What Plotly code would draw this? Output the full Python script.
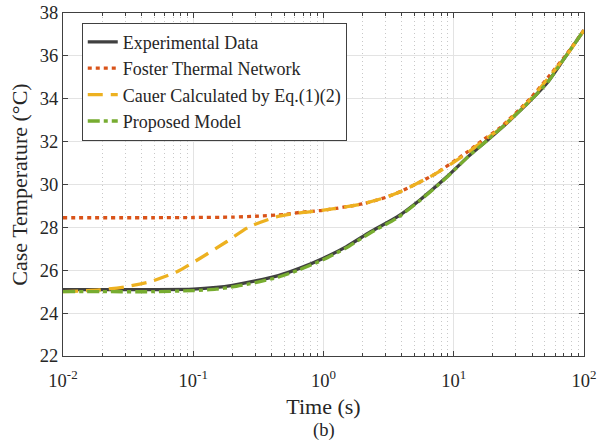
import plotly.graph_objects as go

# ---- data ----
t_exp = [0.01, 0.02, 0.05, 0.1, 0.15, 0.2, 0.3, 0.45, 0.66, 1.0, 1.5, 2.3, 3.7, 5.5, 8.9, 12.9, 18.4, 27, 38.5, 53, 70, 100]
T_exp = [25.1, 25.1, 25.1, 25.12, 25.2, 25.3, 25.5, 25.75, 26.1, 26.56, 27.1, 27.8, 28.5, 29.28, 30.37, 31.3, 32.1, 33.0, 33.9, 34.8, 35.85, 37.2]

t_fos = [0.01, 0.05, 0.1, 0.2, 0.3, 0.5, 0.66, 1.0, 2.0, 3.0, 4.0, 7.0, 12.6, 16.5, 22.7, 38.5, 53, 74, 100]
T_fos = [28.45, 28.45, 28.46, 28.48, 28.52, 28.6, 28.7, 28.8, 29.1, 29.4, 29.7, 30.45, 31.5, 32.05, 32.65, 34.0, 35.0, 36.1, 37.2]

t_cau = [0.01, 0.019, 0.031, 0.047, 0.075, 0.113, 0.18, 0.27, 0.44, 0.66, 1.0, 2.0, 3.0, 4.0, 7.0, 12.6, 16.5, 22.7, 38.5, 53, 74, 100]
T_cau = [25.0, 25.08, 25.24, 25.47, 25.93, 26.56, 27.33, 28.03, 28.5, 28.68, 28.8, 29.1, 29.4, 29.7, 30.45, 31.45, 32.0, 32.6, 33.95, 34.95, 36.05, 37.2]

t_pro = [0.01, 0.02, 0.05, 0.1, 0.15, 0.2, 0.3, 0.45, 0.66, 1.0, 1.5, 2.3, 3.7, 5.5, 8.9, 12.9, 18.4, 27, 38.5, 53, 70, 100]
T_pro = [25.0, 25.0, 25.0, 25.05, 25.12, 25.22, 25.42, 25.68, 26.03, 26.5, 27.05, 27.75, 28.45, 29.25, 30.35, 31.3, 32.1, 33.0, 33.9, 34.8, 35.85, 37.2]

names = ["Experimental Data", "Foster Thermal Network", "Cauer Calculated by Eq.(1)(2)", "Proposed Model"]
colors = ["#404040", "#D95319", "#EDB120", "#77AC30"]
dashes = ["solid", "4px,4px", "15px,8px", "12px,4px,4px,4px"]
xaxes = ["x", "x", "x", "x2"]

x_ticks = [0.01, 0.1, 1, 10, 100]
x_ticktext = ["10<sup>-2</sup>", "10<sup>-1</sup>", "10<sup>0</sup>", "10<sup>1</sup>", "10<sup>2</sup>"]
x_minor = [0.02, 0.03, 0.04, 0.05, 0.06, 0.07, 0.08, 0.09,
           0.2, 0.3, 0.4, 0.5, 0.6, 0.7, 0.8, 0.9,
           2, 3, 4, 5, 6, 7, 8, 9,
           20, 30, 40, 50, 60, 70, 80, 90]
y_ticks = [22, 24, 26, 28, 30, 32, 34, 36, 38]

fig = go.Figure()
for t, T, n, c, d, xa in zip([t_exp, t_fos, t_cau, t_pro], [T_exp, T_fos, T_cau, T_pro], names, colors, dashes, xaxes):
    fig.add_trace(go.Scatter(x=t, y=T, mode="lines", name=n, xaxis=xa, yaxis="y",
                             line=dict(color=c, width=3.3, dash=d, shape="spline", smoothing=0.6)))

font = "Liberation Serif, Times New Roman, serif"
FS = 18.5
axcol = "#404040"
fig.update_layout(
    width=607, height=447,
    margin=dict(l=63, r=23, t=13, b=91),
    paper_bgcolor="white", plot_bgcolor="white",
    font=dict(family=font, size=FS, color="#262626"),
    showlegend=True,
    legend=dict(x=0.036, y=0.972, xanchor="left", yanchor="top",
                bgcolor="white", bordercolor=axcol, borderwidth=1,
                font=dict(family=font, size=18, color="#262626"),
                tracegroupgap=0),
    xaxis2=dict(type="log", range=[-2, 2], overlaying="x", anchor="y", side="bottom",
                tickvals=x_minor, showticklabels=False,
                ticks="inside", ticklen=3, tickcolor=axcol,
                showline=True, linecolor=axcol, linewidth=1, mirror="ticks",
                showgrid=True, gridcolor="#c8c8c8", griddash="1px,3px", gridwidth=1,
                zeroline=False, automargin=False),
    xaxis=dict(type="log", range=[-2, 2], tickvals=x_ticks, ticktext=x_ticktext,
               ticks="inside", ticklen=5, tickcolor=axcol,
               showline=True, linecolor=axcol, linewidth=1, mirror="ticks",
               showgrid=True, gridcolor="#e3e3e3", gridwidth=1,
               zeroline=False, automargin=False, ticklabelstandoff=8,
               title=dict(text="Time (s)", standoff=8),
               tickfont=dict(size=FS)),
    yaxis=dict(range=[22, 38], tickvals=y_ticks,
               ticks="inside", ticklen=5, tickcolor=axcol,
               showline=True, linecolor=axcol, linewidth=1, mirror="ticks",
               showgrid=True, gridcolor="#e3e3e3", gridwidth=1,
               zeroline=False, automargin=False,
               title=dict(text="Case Temperature (°C)", standoff=6),
               tickfont=dict(size=FS)),
    annotations=[dict(text="(b)", xref="paper", yref="paper", x=0.5, y=-0.218,
                      xanchor="center", yanchor="middle", showarrow=False,
                      font=dict(family=font, size=FS, color="#262626"))],
)

fig.write_html("out.html", config={"displayModeBar": False},
               post_script="document.body.style.margin='0';")
